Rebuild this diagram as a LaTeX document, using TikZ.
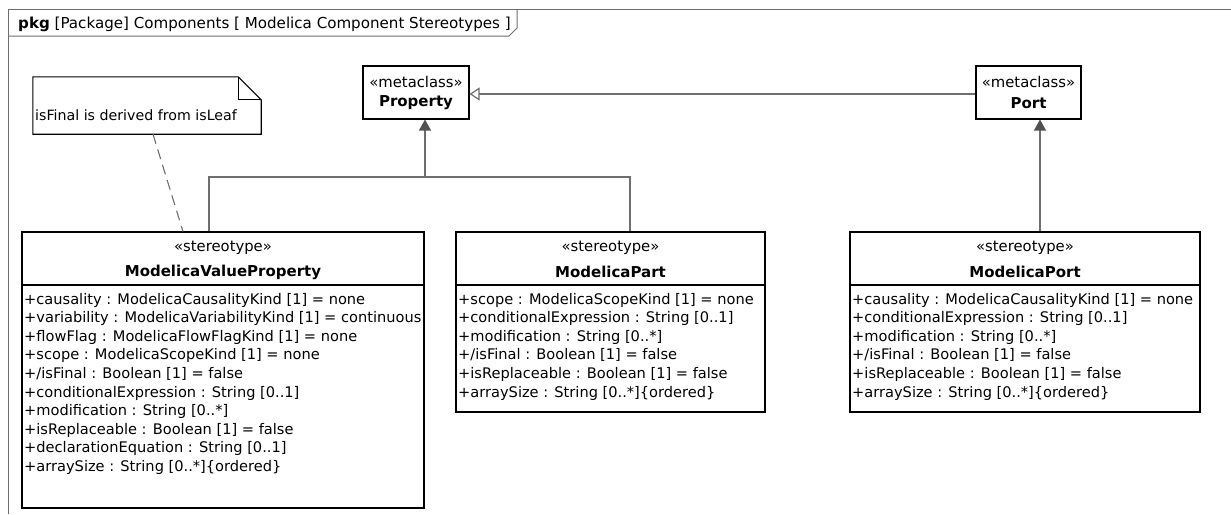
\documentclass[tikz,border=0pt]{standalone}
\usepackage{fontspec}
\setmainfont{DejaVu Sans}
\usetikzlibrary{arrows.meta,calc}
\definecolor{conn}{HTML}{6E6E6E}
\definecolor{tip}{HTML}{505050}
\tikzset{
  box/.style={draw=black, line width=1.1pt, fill=white, inner sep=0pt, rectangle},
  attr/.style={anchor=base west, inner sep=0pt, font=\fontsize{14.6}{17}\selectfont},
  stereo/.style={inner sep=0pt, font=\fontsize{14.8}{17}\selectfont},
  cname/.style={inner sep=0pt, font=\fontsize{15}{17}\selectfont\bfseries},
  gen/.style={draw=conn, line width=1.2pt},
  genfill/.style={gen, -{Triangle[length=11pt,width=12pt,fill=tip,color=tip]}},
  genopen/.style={gen, -{Triangle[open,length=10pt,width=13pt,fill=white,color=conn]}},
  notelink/.style={draw=conn, line width=1.1pt, dash pattern=on 10pt off 6pt},
}
\begin{document}
\begin{tikzpicture}[x=1pt,y=-1pt]
\useasboundingbox[fill=white] (0,0) rectangle (1231,514);
% frame
\draw[line width=1pt, draw=conn] (8,514) -- (8,9) -- (1231,9);
\draw[line width=1pt, draw=conn] (8,36) -- (509,36) -- (517,28) -- (517,9);
\node[anchor=base west, inner sep=0pt, font=\fontsize{15.1}{17}\selectfont] (title) at (18,28)
  {\textbf{pkg} [Package] Components [ Modelica Component Stereotypes ]};

% metaclasses
\node[box, minimum width=106pt, minimum height=53pt] (prop) at (416,92.5) {};
\node[stereo] (prop-st) at (416,82) {«metaclass»};
\node[cname] (prop-name) at (416,103) {Property};
\node[box, minimum width=105pt, minimum height=53pt] (port) at (1028.5,92.5) {};
\node[stereo] (port-st) at (1028.5,82) {«metaclass»};
\node[cname] (port-name) at (1028.5,103) {Port};

% note
\node[minimum width=228pt, minimum height=57pt, inner sep=0pt] (note) at (147,105.5) {};
\draw[line width=1.1pt, fill=white] (note.north west) -- ($(note.north east)+(-23,0)$) -- ($(note.north east)+(0,23)$) -- (note.south east) -- (note.south west) -- cycle;
\draw[line width=1.1pt] ($(note.north east)+(-23,0)$) -- ($(note.north east)+(-23,23)$) -- ($(note.north east)+(0,23)$);
\node[anchor=base west, inner sep=0pt, font=\fontsize{14.2}{17}\selectfont] (note-text) at (35,120) {isFinal is derived from isLeaf};

% ModelicaValueProperty
\node[box, minimum width=402pt, minimum height=276pt] (mvp) at (223,370) {};
\draw[line width=1.1pt] (22,285) -- (424,285);
\node[stereo] (mvp-st) at (223,248) {«stereotype»};
\node[cname] (mvp-name) at (223,272) {ModelicaValueProperty};
\foreach \t [count=\i] in {
  +causality : ModelicaCausalityKind [1] = none,
  +variability : ModelicaVariabilityKind [1] = continuous,
  +flowFlag : ModelicaFlowFlagKind [1] = none,
  +scope : ModelicaScopeKind [1] = none,
  +/isFinal : Boolean [1] = false,
  +conditionalExpression : String [0..1],
  +modification : String [0..*],
  +isReplaceable : Boolean [1] = false,
  +declarationEquation : String [0..1],
  +arraySize : String [0..*]\{ordered\}}
  \node[attr] (mvp-a\i) at (24,285.4+18.6*\i) {\t};

% ModelicaPart
\node[box, minimum width=309pt, minimum height=180pt] (mpart) at (610.5,322) {};
\draw[line width=1.1pt] (456,285) -- (765,285);
\node[stereo] (mpart-st) at (610.5,248) {«stereotype»};
\node[cname] (mpart-name) at (610.5,272) {ModelicaPart};
\foreach \t [count=\i] in {
  +scope : ModelicaScopeKind [1] = none,
  +conditionalExpression : String [0..1],
  +modification : String [0..*],
  +/isFinal : Boolean [1] = false,
  +isReplaceable : Boolean [1] = false,
  +arraySize : String [0..*]\{ordered\}}
  \node[attr] (mpart-a\i) at (458,285.4+18.6*\i) {\t};

% ModelicaPort
\node[box, minimum width=350pt, minimum height=180pt] (mport) at (1025,322) {};
\draw[line width=1.1pt] (850,285) -- (1200,285);
\node[stereo] (mport-st) at (1025,248) {«stereotype»};
\node[cname] (mport-name) at (1025,272) {ModelicaPort};
\foreach \t [count=\i] in {
  +causality : ModelicaCausalityKind [1] = none,
  +conditionalExpression : String [0..1],
  +modification : String [0..*],
  +/isFinal : Boolean [1] = false,
  +isReplaceable : Boolean [1] = false,
  +arraySize : String [0..*]\{ordered\}}
  \node[attr] (mport-a\i) at (852,285.4+18.6*\i) {\t};

% connectors
\coordinate (j) at (425,177);
\draw[gen] ($(mvp.north)+(-14,0)$) |- (j);
\draw[gen] ($(mpart.north)+(19.5,0)$) |- (j);
\draw[genfill] (j) -- ($(prop.south)+(9,0)$);
\draw[genfill] ($(mport.north)+(15,0)$) -- ($(port.south)+(11.5,0)$);
\draw[genopen] ($(port.west)+(0,1.5)$) -- ($(prop.east)+(0,1.5)$);
\draw[notelink] ($(note.south)+(6,0)$) -- ($(mvp.north)+(-40,0)$);
\end{tikzpicture}
\end{document}
